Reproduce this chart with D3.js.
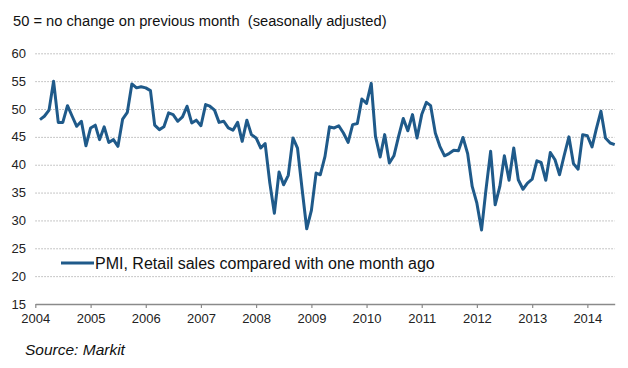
<!DOCTYPE html>
<html>
<head>
<meta charset="utf-8">
<script src="https://cdn.jsdelivr.net/npm/d3@7"></script>
<style>
  body { margin: 0; background: #fff; }
  svg { display: block; font-family: "Liberation Sans", Arial, sans-serif; }
  .grid line { stroke: #b4b4b4; stroke-dasharray: 1.5,1.5; }
  .grid .domain { display: none; }
  .ylab text, .xax text { fill: #222; font-size: 13px; }
</style>
</head>
<body>
<svg id="chart" width="628" height="368"></svg>
<script>
// monthly readings, first one is Feb 2004
var firstMonth = new Date(2004, 1, 1);
var pmi = [
  48.1, 48.7, 49.8, 55.0, 47.6, 47.6, 50.6, 48.7, 46.9, 47.8, 43.4,          // 2004 (Feb-Dec)
  46.6, 47.1, 44.5, 46.8, 44.0, 44.5, 43.3, 48.2, 49.4, 54.5, 53.8, 54.0,    // 2005
  53.8, 53.3, 47.1, 46.3, 46.8, 49.3, 49.0, 47.8, 48.6, 50.5, 47.5, 48.0,    // 2006
  47.0, 50.8, 50.5, 49.8, 47.6, 47.8, 46.6, 46.2, 47.6, 44.2, 48.0, 45.4,    // 2007
  44.8, 43.0, 43.8, 36.7, 31.3, 38.7, 36.4, 38.1, 44.8, 43.0, 35.5, 28.5,    // 2008
  31.8, 38.5, 38.2, 41.5, 46.8, 46.6, 47.0, 45.7, 44.0, 47.2, 47.4, 51.8,    // 2009
  51.0, 54.6, 45.1, 41.4, 45.4, 40.3, 41.6, 45.1, 48.3, 46.1, 49.0, 44.8,    // 2010
  49.0, 51.2, 50.6, 45.7, 43.3, 41.6, 42.0, 42.6, 42.5, 44.9, 42.0, 36.1,    // 2011
  33.1, 28.3, 35.5, 42.4, 32.8, 36.1, 41.6, 37.2, 43.0, 37.3, 35.6, 36.7,    // 2012
  37.4, 40.7, 40.4, 37.2, 42.2, 40.9, 38.2, 41.7, 45.0, 40.2, 39.2, 45.4,    // 2013
  45.2, 43.2, 46.4, 49.6, 44.8, 43.9, 43.6                                   // 2014 (Jan-Jul)
];
var yTicks = [15, 20, 25, 30, 35, 40, 45, 50, 55, 60];
var xYears = [2004, 2005, 2006, 2007, 2008, 2009, 2010, 2011, 2012, 2013, 2014];
var titleText = "50 = no change on previous month\u00a0\u00a0(seasonally adjusted)";
var legendText = "PMI, Retail sales compared with one month ago";
var sourceText = "Source: Markit";

var series = pmi.map(function(v, i) {
  return { date: d3.timeMonth.offset(firstMonth, i), value: v };
});

var svg = d3.select("#chart");
// plot box (note: "top" is taken by window, hence the prefix)
var plotL = 35.3, plotR = 614.7, plotT = 53.3, plotB = 304;

var x = d3.scaleTime()
    .domain([new Date(2004, 0, 1), new Date(2014, 6, 1)])
    .range([plotL, plotR]);
var y = d3.scaleLinear().domain([15, 60]).range([plotB, plotT]);

// title
svg.append("text")
    .attr("x", 13).attr("y", 26)
    .attr("font-size", 14.7).attr("fill", "#111")
    .text(titleText);

// dotted gridlines (not at 15, the axis sits there)
svg.append("g")
    .attr("class", "grid")
    .attr("transform", "translate(" + plotL + ",0)")
    .call(d3.axisRight(y)
        .tickValues(yTicks.filter(function(t) { return t > 15; }))
        .tickSize(plotR - plotL)
        .tickFormat(""));

// y labels
svg.append("g")
    .attr("class", "ylab")
    .selectAll("text")
    .data(yTicks)
    .enter().append("text")
    .attr("x", 26)
    .attr("y", function(d) { return y(d); })
    .attr("dy", "0.35em")
    .attr("text-anchor", "end")
    .text(function(d) { return d; });

// x axis
var xAxis = svg.append("g")
    .attr("class", "xax")
    .attr("transform", "translate(0," + plotB + ")")
    .call(d3.axisBottom(x)
        .tickValues(xYears.map(function(yr) { return new Date(yr, 0, 1); }))
        .tickFormat(d3.timeFormat("%Y"))
        .tickSize(4)
        .tickSizeOuter(0));
xAxis.select(".domain").attr("stroke", "#8a8a8a").attr("stroke-width", 1.5);
xAxis.selectAll(".tick line").attr("stroke", "#8a8a8a").attr("stroke-width", 1.2);
xAxis.selectAll(".tick text").attr("y", 10).attr("dy", "0.71em");

// the line
var line = d3.line()
    .x(function(d) { return x(d.date); })
    .y(function(d) { return y(d.value); });

svg.append("path")
    .datum(series)
    .attr("fill", "none")
    .attr("stroke", "#1f5a8a")
    .attr("stroke-width", 3)
    .attr("stroke-linejoin", "round")
    .attr("d", line);

// legend
var lg = svg.append("g").attr("transform", "translate(61,263)");
lg.append("line")
    .attr("x1", 0).attr("x2", 33)
    .attr("stroke", "#1f5a8a").attr("stroke-width", 3);
lg.append("text")
    .attr("x", 34).attr("dy", "0.35em")
    .attr("font-size", 16).attr("fill", "#111")
    .text(legendText);

// source
svg.append("text")
    .attr("x", 25).attr("y", 355)
    .attr("font-size", 15.5).attr("font-style", "italic").attr("fill", "#111")
    .text(sourceText);
</script>
</body>
</html>
